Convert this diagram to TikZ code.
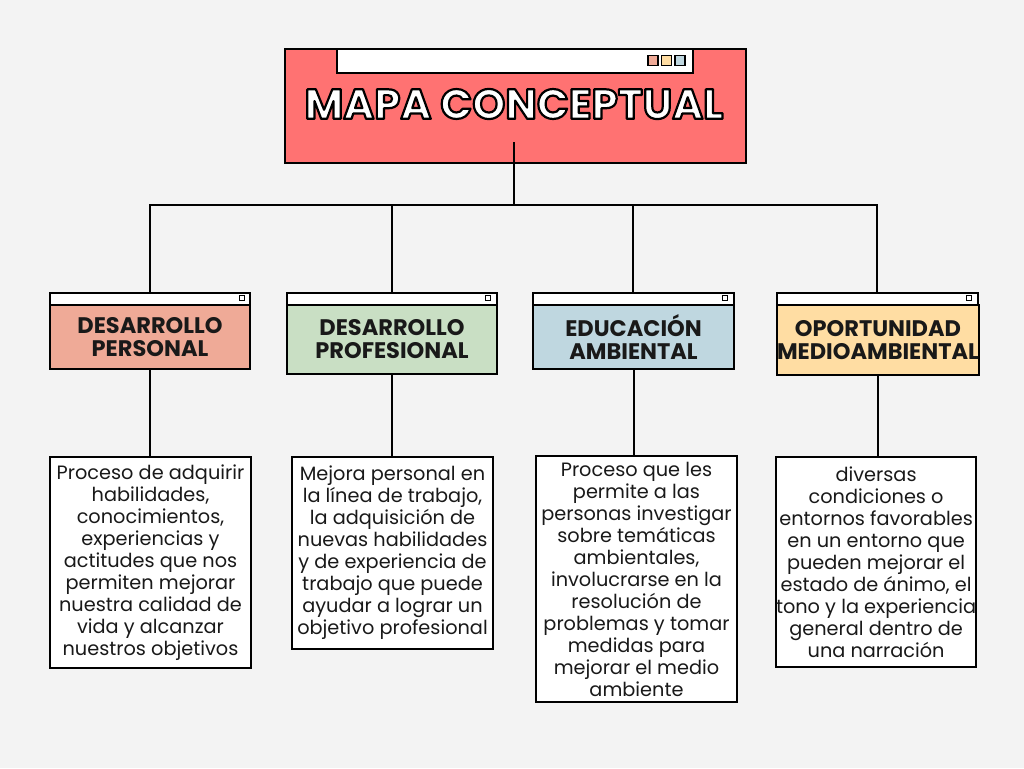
\documentclass[tikz,border=0pt]{standalone}
\usepackage{fontspec}
\setmainfont{Poppins}
\definecolor{bg}{HTML}{F3F3F3}
\definecolor{titlered}{HTML}{FF7272}
\definecolor{cpers}{HTML}{EFAA97}
\definecolor{cprof}{HTML}{C9DFC4}
\definecolor{cedu}{HTML}{BFD7E0}
\definecolor{copo}{HTML}{FFDDA3}
\newcommand{\outlinedtext}[1]{\color{white}\special{pdf:literal direct 2 Tr 2.2 w 1 j 0 0 0 RG}#1\special{pdf:literal direct 0 Tr 1 w}}
\tikzset{
  box/.style={draw=black, line width=2, inner sep=0pt, anchor=north west},
  barbox/.style={draw=black, line width=1.6, fill=white, inner sep=0pt, anchor=north west, minimum height=12},
  dot/.style={draw=black, line width=1.2, inner sep=0pt, minimum size=5, fill=white},
  sqbox/.style={draw=black, line width=1.4, inner sep=0pt, minimum size=10},
  head/.style={box, font=\fontsize{22.5}{23}\selectfont\bfseries, align=center, text=black!90},
  desc/.style={box, fill=white, font=\fontsize{19.3}{22}\selectfont, align=center, text=black!90},
  conn/.style={draw=black, line width=2},
  ttl/.style={font=\fontsize{42}{44}\selectfont\bfseries}
}
\begin{document}
\begin{tikzpicture}[x=1pt,y=-1pt]
\useasboundingbox (0,0) rectangle (1024,768);
\fill[bg] (0,0) rectangle (1024,768);

% title
\node[box, fill=titlered, minimum width=461, minimum height=114] (title) at (284,48) {};
\node[barbox, line width=2, minimum width=356, minimum height=24] (tbar) at (336,48) {};
\node[sqbox, fill=cpers] (sq1) at (653,60.5) {};
\node[sqbox, fill=copo] (sq2) at (666.5,60.5) {};
\node[sqbox, fill=cedu] (sq3) at (680,60.5) {};
\node[ttl] (ttext) at (514,104) {\outlinedtext{MAPA CONCEPTUAL}};
\coordinate (tstart) at (514,142);
\coordinate (hub) at (514,205);

% headers
\node[barbox, minimum width=200] (b1) at (49,292) {};
\node[head, fill=cpers, minimum width=200, minimum height=64] (h1) at (49,304) {DESARROLLO\\PERSONAL};
\node[barbox, minimum width=210] (b2) at (286,292) {};
\node[head, fill=cprof, minimum width=210, minimum height=69] (h2) at (286,304) {DESARROLLO\\PROFESIONAL};
\node[barbox, minimum width=201] (b3) at (532,292) {};
\node[head, fill=cedu, minimum width=201, minimum height=64] (h3) at (532,304) {EDUCACIÓN\\AMBIENTAL};
\node[barbox, minimum width=201] (b4) at (776,292) {};
\node[head, fill=copo, minimum width=201, minimum height=70] (h4) at (776,304) {OPORTUNIDAD\\MEDIOAMBIENTAL};
\node[dot] (s1) at (242,298) {};
\node[dot] (s2) at (488,298) {};
\node[dot] (s3) at (725,298) {};
\node[dot] (s4) at (969,298) {};

% descriptions
\node[desc, minimum width=201, minimum height=211] (t1) at (49,456)
  {Proceso de adquirir\\habilidades,\\conocimientos,\\experiencias y\\actitudes que nos\\permiten mejorar\\nuestra calidad de\\vida y alcanzar\\nuestros objetivos};
\node[desc, minimum width=201, minimum height=192] (t2) at (291,456)
  {Mejora personal en\\la línea de trabajo,\\la adquisición de\\nuevas habilidades\\y de experiencia de\\trabajo que puede\\ayudar a lograr un\\objetivo profesional};
\node[desc, minimum width=201, minimum height=246] (t3) at (535,455)
  {Proceso que les\\permite a las\\personas investigar\\sobre temáticas\\ambientales,\\involucrarse en la\\resolución de\\problemas y tomar\\medidas para\\mejorar el medio\\ambiente};
\node[desc, minimum width=200, minimum height=210] (t4) at (775,456)
  {diversas\\condiciones o\\entornos favorables\\en un entorno que\\pueden mejorar el\\estado de ánimo, el\\tono y la experiencia\\general dentro de\\una narración};

% connectors
\draw[conn] (tstart) -- (hub);
\draw[conn] (b1.north) -- (b1.north |- hub) -- (b4.north |- hub) -- (b4.north);
\draw[conn] (b2.north) -- (b2.north |- hub);
\draw[conn] (b3.north) -- (b3.north |- hub);
\draw[conn] (h1.south) -- (h1.south |- t1.north);
\draw[conn] (h2.south) -- (h2.south |- t2.north);
\draw[conn] (h3.south) -- (h3.south |- t3.north);
\draw[conn] (h4.south) -- (h4.south |- t4.north);
\end{tikzpicture}
\end{document}
